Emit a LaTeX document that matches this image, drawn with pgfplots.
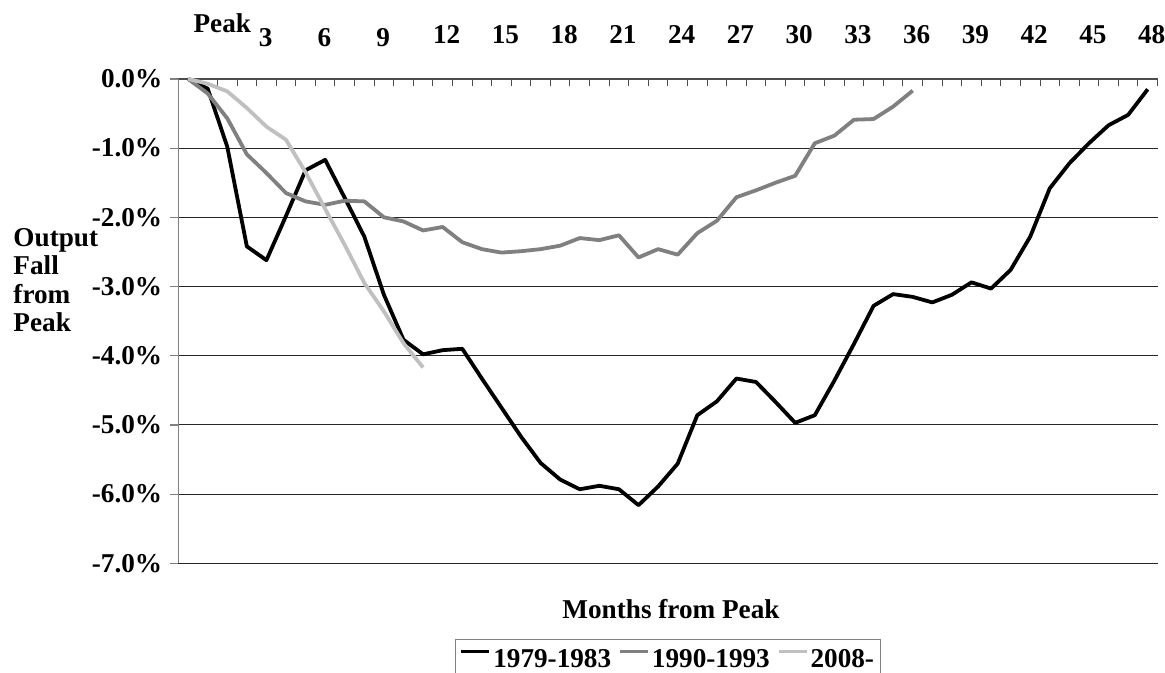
\documentclass[border=0pt]{standalone}
\usepackage{fontspec}
\setmainfont{Liberation Serif}
\usepackage{pgfplots}
\usepackage{pgfplotstable}
\pgfplotsset{compat=1.18}
\newcommand{\cf}{\fontsize{27.2bp}{28.3bp}\selectfont\bfseries}
\definecolor{midgray}{HTML}{808080}
\definecolor{lightgray2}{HTML}{C0C0C0}

\pgfplotstableread{
i v
0 0
1 -0.14
2 -0.98
3 -2.42
4 -2.62
5 -1.98
6 -1.32
7 -1.17
8 -1.72
9 -2.28
10 -3.12
11 -3.77
12 -3.98
13 -3.92
14 -3.90
15 -4.33
16 -4.75
17 -5.17
18 -5.55
19 -5.79
20 -5.93
21 -5.88
22 -5.93
23 -6.16
24 -5.89
25 -5.56
26 -4.86
27 -4.66
28 -4.33
29 -4.38
30 -4.67
31 -4.97
32 -4.86
33 -4.36
34 -3.83
35 -3.28
36 -3.11
37 -3.15
38 -3.23
39 -3.12
40 -2.94
41 -3.03
42 -2.76
43 -2.28
44 -1.58
45 -1.22
46 -0.93
47 -0.67
48 -0.52
49 -0.15
}\recA

\pgfplotstableread{
i v
0 0
1 -0.21
2 -0.57
3 -1.09
4 -1.36
5 -1.65
6 -1.77
7 -1.82
8 -1.76
9 -1.77
10 -2.00
11 -2.06
12 -2.19
13 -2.14
14 -2.36
15 -2.46
16 -2.51
17 -2.49
18 -2.46
19 -2.41
20 -2.30
21 -2.33
22 -2.26
23 -2.58
24 -2.46
25 -2.54
26 -2.23
27 -2.05
28 -1.71
29 -1.61
30 -1.50
31 -1.40
32 -0.93
33 -0.82
34 -0.59
35 -0.58
36 -0.40
37 -0.17
}\recB

\pgfplotstableread{
i v
0 0
1 -0.07
2 -0.18
3 -0.42
4 -0.69
5 -0.88
6 -1.35
7 -1.88
8 -2.40
9 -2.95
10 -3.36
11 -3.82
12 -4.17
}\recC

\begin{document}
\begin{tikzpicture}
\useasboundingbox (0,0) rectangle (1165bp,673bp);
\begin{axis}[
  at={(178.3bp,109.7bp)}, anchor=south west,
  scale only axis, width=979.2bp, height=484.4bp,
  xmin=-0.5, xmax=49.5, ymin=-7, ymax=0,
  axis x line*=top, axis y line*=left,
  x axis line style={draw=black!70, line width=1.2bp},
  y axis line style={draw=midgray, line width=1.5bp},
  xtick={0.27,3.6,6.6,9.6,12.5,15.5,18.5,21.5,24.5,27.5,30.5,33.5,36.5,39.5,42.5,45.5,48.5},
  xticklabels={\raisebox{10.6bp}{Peak},\raisebox{-3.4bp}{3},\raisebox{-3.4bp}{6},\raisebox{-3.4bp}{9},12,15,18,21,24,27,30,33,36,39,42,45,48},
  minor xtick={-0.5,0.5,...,49.5},
  major x tick style={draw=none},
  minor x tick style={draw=black!70, line width=1bp},
  xtick align=inside,
  ytick align=outside,
  major tick length=8bp, minor tick length=7bp,
  ytick={-7,-6,-5,-4,-3,-2,-1,0},
  yticklabels={-7.0\%,-6.0\%,-5.0\%,-4.0\%,-3.0\%,-2.0\%,-1.0\%,0.0\%},
  y tick style={draw=midgray, line width=1.2bp},
  xticklabel style={font=\cf, anchor=base west, inner sep=0pt, yshift=35.7bp},
  yticklabel style={font=\cf, anchor=east, inner sep=0pt, xshift=-7.9bp},
  ymajorgrids=true,
  major grid style={draw=black!85, line width=1bp},
  clip=false,
  legend columns=3,
  legend style={at={(0.2826,-0.1569)}, anchor=north west, draw=midgray, line width=1bp,
    font=\cf, inner xsep=4bp, inner ysep=7.6bp,
    /tikz/every even column/.append style={column sep=5bp}},
  legend image code/.code={\draw[#1] (0bp,7.6bp) -- (28bp,7.6bp);},
  every axis plot/.append style={line width=3.8bp, line join=round},
]
\addplot[black] table[x=i, y=v] {\recA};
\addlegendentry{1979-1983}
\addplot[midgray] table[x=i, y=v] {\recB};
\addlegendentry{1990-1993}
\addplot[lightgray2] table[x=i, y=v] {\recC};
\addlegendentry{2008-}
\end{axis}
\node[font=\cf, anchor=base west, inner sep=0pt] at (13.3bp,426.3bp) {Output};
\node[font=\cf, anchor=base west, inner sep=0pt] at (13.3bp,398bp) {Fall};
\node[font=\cf, anchor=base west, inner sep=0pt] at (13.3bp,369.7bp) {from};
\node[font=\cf, anchor=base west, inner sep=0pt] at (13.3bp,341.3bp) {Peak};
\node[font=\cf, anchor=base, inner sep=0pt] at (671bp,54.7bp) {Months from Peak};
\end{tikzpicture}
\end{document}
